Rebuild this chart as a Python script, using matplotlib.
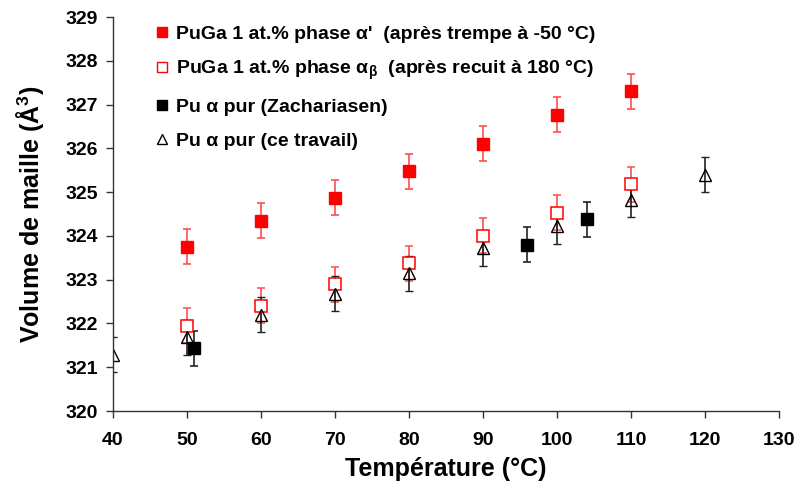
import matplotlib
matplotlib.use("Agg")
import matplotlib.pyplot as plt
from matplotlib.lines import Line2D

plt.rcParams['font.family'] = ['Liberation Sans', 'DejaVu Sans']
plt.rcParams['mathtext.fontset'] = 'custom'
plt.rcParams['mathtext.rm'] = 'Liberation Sans'
plt.rcParams['mathtext.it'] = 'Liberation Sans:italic'
plt.rcParams['mathtext.bf'] = 'Liberation Sans:bold'

# Data
t_alpha_prime = [50, 60, 70, 80, 90, 100, 110]
v_alpha_prime = [323.75, 324.35, 324.87, 325.48, 326.1, 326.77, 327.3]
t_alpha_beta = [50, 60, 70, 80, 90, 100, 110]
v_alpha_beta = [321.95, 322.4, 322.9, 323.37, 324.0, 324.53, 325.18]
t_zach = [51, 96, 104]
v_zach = [321.43, 323.8, 324.38]
t_ce = [40, 50, 60, 70, 80, 90, 100, 110, 120]
v_ce = [321.28, 321.68, 322.2, 322.68, 323.15, 323.72, 324.22, 324.83, 325.4]
err = 0.4

labels = ["PuGa 1 at.% phase α'  (après trempe à -50 °C)",
          r"PuGa 1 at.% phase α$_{\mathbf{β}}$  (après recuit à 180 °C)",
          "Pu α pur (Zachariasen)",
          "Pu α pur (ce travail)"]

fig = plt.figure(figsize=(7.97, 4.86), dpi=100)
ax = fig.add_axes([113 / 797, 1 - 411 / 486, 666 / 797, 394 / 486])

red = '#ff0000'
ekw = dict(capsize=3, elinewidth=1.2, capthick=1.2, linestyle='none')
ax.errorbar(t_alpha_prime, v_alpha_prime, yerr=err, fmt='s', ms=8.5,
            mfc=red, mec=red, ecolor='#ff4d4d', **ekw)
ax.errorbar(t_alpha_beta, v_alpha_beta, yerr=err, fmt='s', ms=8.5,
            mfc='white', mec=red, mew=1.1, ecolor='#ff4d4d', **ekw)
ax.errorbar(t_ce, v_ce, yerr=err, fmt='^', ms=8.5,
            mfc='none', mec='black', mew=1.0, ecolor='#222222', **ekw)
ax.errorbar(t_zach, v_zach, yerr=err, fmt='s', ms=8.5,
            mfc='black', mec='black', ecolor='#222222', **ekw)

ax.set_xlim(40, 130)
ax.set_ylim(320, 329)
ax.set_xticks(range(40, 131, 10))
ax.set_yticks(range(320, 330, 1))
for s in ['top', 'right']:
    ax.spines[s].set_visible(False)
for s in ['left', 'bottom']:
    ax.spines[s].set_color('#333333')
    ax.spines[s].set_linewidth(1.0)
ax.tick_params(direction='out', length=5, width=1.0, colors='#333333',
               labelcolor='black', labelsize=14)
ax.tick_params(axis='y', pad=6)
ax.tick_params(axis='x', pad=10)
for lab in ax.get_xticklabels() + ax.get_yticklabels():
    lab.set_fontweight('bold')

ax.set_xlabel('Température (°C)', fontsize=18, fontweight='bold', labelpad=6)
ax.set_ylabel(r'Volume de maille (Å$^\mathbf{3}$)', fontsize=18, fontweight='bold', labelpad=14)

handles = [Line2D([], [], marker='s', ls='none', ms=7, mfc=red, mec=red),
           Line2D([], [], marker='s', ls='none', ms=7, mfc='white', mec=red),
           Line2D([], [], marker='s', ls='none', ms=7, mfc='black', mec='black'),
           Line2D([], [], marker='^', ls='none', ms=7, mfc='none', mec='black')]
leg = ax.legend(handles, labels, loc='upper left', bbox_to_anchor=(0.035, 1.024),
                frameon=False, prop={'weight': 'bold', 'size': 14},
                handlelength=0.8, handletextpad=0.35, labelspacing=0.84)

fig.savefig('out.png', dpi=100)
